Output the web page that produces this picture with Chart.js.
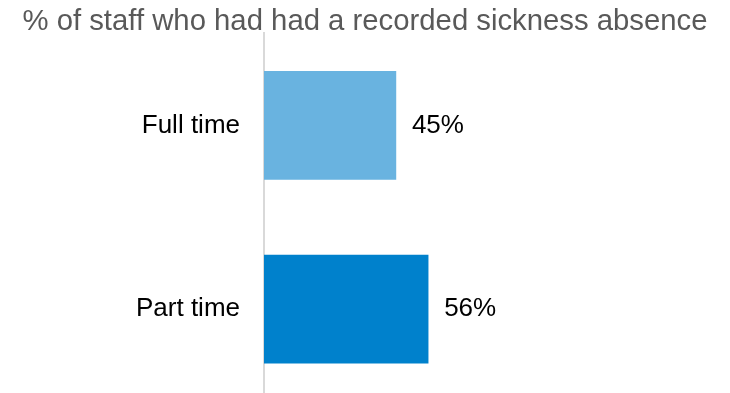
<!DOCTYPE html>
<html>
<head>
<meta charset="utf-8">
<script src="https://cdn.jsdelivr.net/npm/chart.js@4"></script>
<style>
html,body{margin:0;padding:0;background:#fff;overflow:hidden;}
canvas{display:block;}
</style>
</head>
<body>
<canvas id="c" width="730" height="401"></canvas>
<script>
const titleText = "% of staff who had had a recorded sickness absence";
const categories = ["Full time", "Part time"];
const values = [45, 56];
const valueLabels = ["45%", "56%"];
const barColors = ["#69B3E0", "#0081CC"];

const FONT = '"Liberation Sans", Arial, sans-serif';

const valueLabelPlugin = {
  id: 'valueLabels',
  afterDatasetsDraw(chart) {
    const ctx = chart.ctx;
    const meta = chart.getDatasetMeta(0);
    ctx.save();
    ctx.font = '26px ' + FONT;
    ctx.fillStyle = '#000';
    ctx.textAlign = 'left';
    ctx.textBaseline = 'middle';
    meta.data.forEach((bar, i) => {
      ctx.fillText(valueLabels[i], bar.x + 16, bar.y);
    });
    ctx.restore();
  }
};

new Chart(document.getElementById('c'), {
  type: 'bar',
  data: {
    labels: categories,
    datasets: [{
      data: values,
      backgroundColor: barColors,
      borderWidth: 0,
      barThickness: 108
    }]
  },
  options: {
    indexAxis: 'y',
    responsive: false,
    maintainAspectRatio: false,
    animation: false,
    layout: { padding: 0 },
    plugins: {
      legend: { display: false },
      tooltip: { enabled: false },
      title: {
        display: true,
        text: titleText,
        color: '#595959',
        font: { family: FONT, size: 29.3, weight: 'normal', lineHeight: 0.8 },
        padding: { top: 10, bottom: 0 }
      }
    },
    scales: {
      x: {
        display: false,
        min: 0,
        max: 159
      },
      y: {
        afterFit(s) { s.width = 264; s.paddingTop = 0; s.paddingBottom = 0; },
        grid: { display: false, drawTicks: false },
        border: { display: true, color: '#d9d9d9', width: 2 },
        ticks: {
          color: '#000',
          padding: 24,
          font: { family: FONT, size: 26 }
        }
      }
    }
  },
  plugins: [valueLabelPlugin]
});
</script>
</body>
</html>
